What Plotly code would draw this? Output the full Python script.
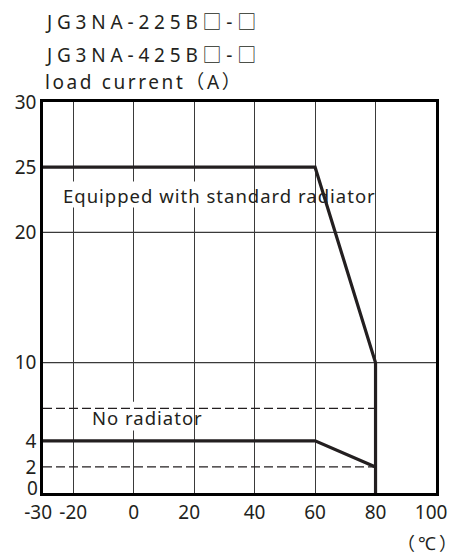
import plotly.graph_objects as go

# Data
x_ticks = [-30, -20, 0, 20, 40, 60, 80, 100]
x_ticktext = ["-30\u00a0\u00a0", "-20", "0", "20\u00a0\u00a0", "40", "60", "80", "100\u00a0\u00a0"]
y_ticks = [0, 2, 4, 10, 20, 25, 30]
y_ticktext = ["", "2", "4", "10", "20", "25", "30"]   # "0" is drawn slightly raised below
grid_y = [10, 20]

std_x = [-30, 60, 80, 80]      # equipped with standard radiator
std_y = [25, 25, 10, 0]
nor_x = [-30, 60, 80]          # no radiator
nor_y = [4, 4, 2]
band_x = [-30, 80]             # dashed limits
band_upper = [6.5, 6.5]
band_lower = [2, 2]

title_lines = ["JG3NA-225B□-□", "JG3NA-425B□-□"]
y_title = "load current（A）"
x_title = "（℃）"
std_label = "Equipped with standard radiator"
nor_label = "No radiator"

INK = "#231f20"
GRID = "#3a3a3a"
FONT = "Noto Sans, Noto Sans CJK SC, DejaVu Sans, sans-serif"

fig = go.Figure()

# dashed limit lines
for yy in (band_upper, band_lower):
    fig.add_trace(go.Scatter(x=band_x, y=yy, mode="lines",
                             line=dict(color=INK, width=1.3, dash="9px,4px"),
                             hoverinfo="skip", showlegend=False))

fig.add_trace(go.Scatter(x=std_x, y=std_y, mode="lines",
                         line=dict(color=INK, width=3.2), showlegend=False))
fig.add_trace(go.Scatter(x=nor_x, y=nor_y, mode="lines",
                         line=dict(color=INK, width=3.2), showlegend=False))

# horizontal grid lines (only at 10 and 20)
for gy in grid_y:
    fig.add_shape(type="line", xref="paper", x0=0, x1=1, yref="y", y0=gy, y1=gy,
                  line=dict(color=GRID, width=1.2), layer="below")

# white gaps behind the labels (cover grid lines, stay under curves)
fig.add_shape(type="rect", xref="x", yref="y", x0=-24, x1=26, y0=21.9, y1=23.9,
              fillcolor="white", line=dict(width=0), layer="between")
fig.add_shape(type="rect", xref="x", yref="y", x0=-15.5, x1=15.5, y0=4.8, y1=7.0,
              fillcolor="white", line=dict(width=0), layer="between")

fig.add_annotation(x=-24, y=22.8, xref="x", yref="y",
                   text='<span style="letter-spacing:1px">' + std_label + "</span>",
                   showarrow=False, xanchor="left", yanchor="middle",
                   font=dict(family=FONT, size=18.5, color=INK))
fig.add_annotation(x=-14.5, y=5.8, xref="x", yref="y",
                   text='<span style="letter-spacing:1px">' + nor_label + "</span>",
                   showarrow=False, xanchor="left", yanchor="middle",
                   font=dict(family=FONT, size=18.5, color=INK))

# raised "0" label of the y axis
fig.add_annotation(x=0, y=y_ticks[0], xref="paper", yref="y", text=str(y_ticks[0]),
                   showarrow=False, xanchor="right", yanchor="middle",
                   xshift=-3, yshift=5,
                   font=dict(family=FONT, size=19, color=INK))

title_y = [1.205, 1.121]
for t, ty in zip(title_lines, title_y):
    fig.add_annotation(x=0, y=ty, xref="paper", yref="paper",
                       text='<span style="letter-spacing:4.8px">' + t + "</span>",
                       showarrow=False, xanchor="left", yanchor="middle",
                       font=dict(family=FONT, size=19, color=INK))
fig.add_annotation(x=0, y=1.052, xref="paper", yref="paper",
                   text='<span style="letter-spacing:2.6px">' + y_title + "</span>",
                   showarrow=False, xanchor="left", yanchor="middle",
                   font=dict(family=FONT, size=19, color=INK))
fig.add_annotation(x=0.98, y=-0.129, xref="paper", yref="paper",
                   text='<span style="letter-spacing:3px">' + x_title + "</span>",
                   showarrow=False, xanchor="center", yanchor="middle",
                   font=dict(family=FONT, size=18, color=INK))

axis_common = dict(showline=True, linecolor="black", linewidth=2.6, mirror=True,
                   ticks="", zeroline=False, automargin=False,
                   tickfont=dict(family=FONT, size=19, color=INK))

fig.update_xaxes(range=[-30, 100], tickvals=x_ticks, ticktext=x_ticktext, tickangle=0,
                 showgrid=True, gridcolor=GRID, gridwidth=1.2, **axis_common)
fig.update_yaxes(range=[0, 30], tickvals=y_ticks, ticktext=y_ticktext,
                 showgrid=False, **axis_common)

fig.update_layout(width=464, height=552,
                  margin=dict(l=35, r=36, t=94, b=67),
                  plot_bgcolor="white", paper_bgcolor="white",
                  showlegend=False)

fig.write_html("out.html")
